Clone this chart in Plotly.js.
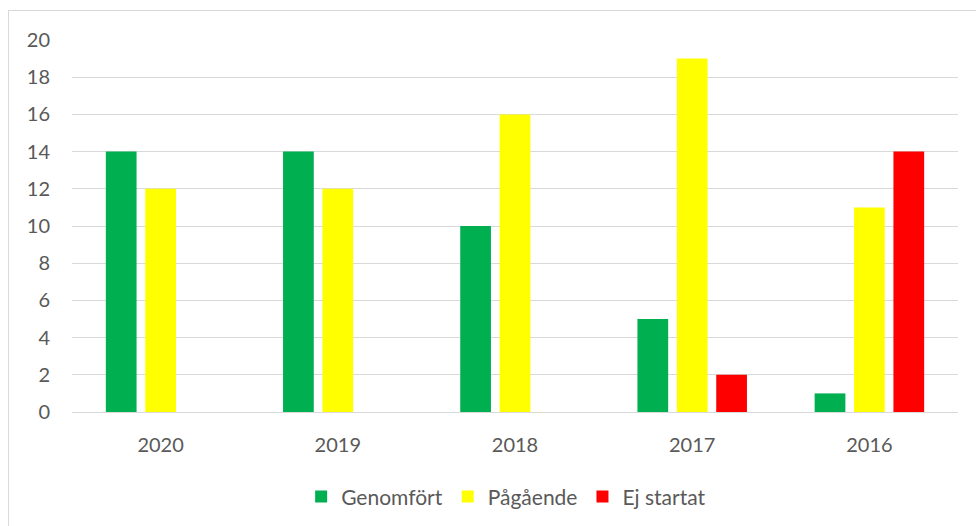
<!DOCTYPE html>
<html>
<head>
<meta charset="utf-8">
<script src="https://cdn.plot.ly/plotly-3.0.1.min.js"></script>
<style>
  html, body { margin: 0; padding: 0; background: #fff; }
  #chart { width: 976px; height: 526px; position: relative; }
  #frame { position: absolute; left: 8px; top: 10px; width: 1000px; height: 600px;
           border: 1px solid #d9d9d9; pointer-events: none; }
</style>
</head>
<body>
<div id="chart"></div>
<div id="frame"></div>
<script>
const years = ["2020", "2019", "2018", "2017", "2016"];
const genomfort = [14, 14, 10, 5, 1];
const pagaende = [12, 12, 16, 19, 11];
const ejStartat = [0, 0, 0, 2, 14];
const seriesNames = ["Genomfört", "Pågående", "Ej startat"];
const seriesColors = ["#00B050", "#FFFF00", "#FF0000"];
const yTicks = [0, 2, 4, 6, 8, 10, 12, 14, 16, 18, 20];

const seriesValues = [genomfort, pagaende, ejStartat];
const traces = seriesValues.map((vals, i) => ({
  type: "bar",
  x: years,
  y: vals,
  name: seriesNames[i],
  marker: { color: seriesColors[i], line: { width: 0 } },
  hoverinfo: "x+y+name"
}));

const textColor = "#595959";
const layout = {
  width: 976,
  height: 526,
  margin: { l: 72, r: 18, t: 40, b: 114, pad: 0, autoexpand: false },
  paper_bgcolor: "#ffffff",
  plot_bgcolor: "#ffffff",
  font: { family: "Lato, 'Open Sans', sans-serif", size: 20, color: textColor },
  barmode: "group",
  bargap: 0.333,
  bargroupgap: 0.22,
  showlegend: true,
  legend: {
    orientation: "h",
    x: 0.49, xanchor: "center",
    y: -0.228, yanchor: "middle",
    font: { size: 21, color: textColor },
    itemwidth: 30,
    tracegroupgap: 0,
    bgcolor: "rgba(0,0,0,0)"
  },
  xaxis: {
    type: "category",
    showgrid: false,
    showline: false,
    zeroline: false,
    ticks: "",
    ticklabelstandoff: 19,
    tickfont: { size: 20, color: textColor }
  },
  yaxis: {
    range: [0, 20],
    tickmode: "array",
    tickvals: yTicks,
    ticktext: yTicks.map(String),
    showgrid: true,
    gridcolor: "#d9d9d9",
    gridwidth: 1,
    zeroline: true,
    zerolinecolor: "#d9d9d9",
    zerolinewidth: 1,
    showline: false,
    ticks: "",
    ticklabelstandoff: 21,
    tickfont: { size: 20, color: textColor }
  }
};

Plotly.newPlot("chart", traces, layout, { displayModeBar: false, staticPlot: true });
</script>
</body>
</html>
